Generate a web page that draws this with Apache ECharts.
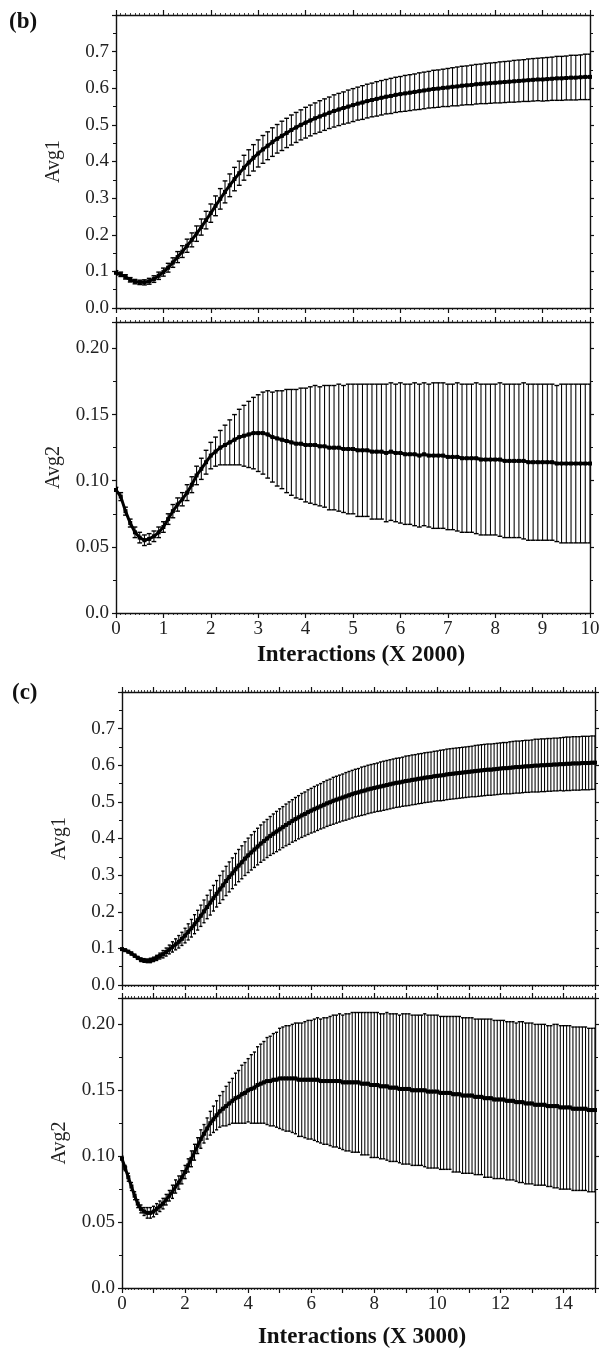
<!DOCTYPE html>
<html>
<head>
<meta charset="utf-8">
<script src="https://cdn.jsdelivr.net/npm/echarts@6/dist/echarts.min.js"></script>
<style>
html,body{margin:0;padding:0;background:#fff;}
#chart{width:606px;height:1351px;}
</style>
</head>
<body>
<div id="chart"></div>
<script>
// ---------- Panel (b): x in units of 2000 interactions ----------
const bX = [0,0.1,0.2,0.3,0.4,0.5,0.6,0.7,0.8,0.9,
1,1.1,1.2,1.3,1.4,1.5,1.6,1.7,1.8,1.9,
2,2.1,2.2,2.3,2.4,2.5,2.6,2.7,2.8,2.9,
3,3.1,3.2,3.3,3.4,3.5,3.6,3.7,3.8,3.9,
4,4.1,4.2,4.3,4.4,4.5,4.6,4.7,4.8,4.9,
5,5.1,5.2,5.3,5.4,5.5,5.6,5.7,5.8,5.9,
6,6.1,6.2,6.3,6.4,6.5,6.6,6.7,6.8,6.9,
7,7.1,7.2,7.3,7.4,7.5,7.6,7.7,7.8,7.9,
8,8.1,8.2,8.3,8.4,8.5,8.6,8.7,8.8,8.9,
9,9.1,9.2,9.3,9.4,9.5,9.6,9.7,9.8,9.9,10];

const bAvg1Mean = [0.096,0.092,0.085,0.077,0.072,0.070,0.070,0.073,0.079,0.088,
0.098,0.110,0.124,0.139,0.154,0.170,0.186,0.203,0.221,0.240,
0.259,0.279,0.298,0.317,0.335,0.352,0.368,0.383,0.397,0.410,
0.422,0.433,0.443,0.453,0.462,0.470,0.478,0.486,0.493,0.500,
0.506,0.512,0.518,0.523,0.528,0.533,0.538,0.542,0.546,0.550,
0.554,0.558,0.561,0.565,0.568,0.571,0.574,0.577,0.579,0.582,
0.584,0.586,0.588,0.590,0.592,0.594,0.596,0.598,0.599,0.601,
0.602,0.604,0.605,0.607,0.608,0.609,0.611,0.612,0.613,0.614,
0.615,0.616,0.617,0.618,0.619,0.620,0.621,0.622,0.623,0.624,
0.624,0.625,0.626,0.627,0.627,0.628,0.629,0.629,0.630,0.631,0.631];

const bAvg1Err = [0.006,0.006,0.006,0.006,0.006,0.006,0.007,0.008,0.009,0.010,
0.011,0.012,0.013,0.015,0.016,0.018,0.019,0.021,0.022,0.024,
0.025,0.027,0.028,0.030,0.031,0.032,0.033,0.034,0.035,0.036,
0.037,0.038,0.038,0.039,0.039,0.040,0.040,0.041,0.041,0.041,
0.042,0.042,0.042,0.043,0.043,0.043,0.044,0.044,0.044,0.045,
0.045,0.045,0.046,0.046,0.046,0.047,0.047,0.047,0.048,0.048,
0.048,0.049,0.049,0.049,0.050,0.050,0.050,0.051,0.051,0.051,
0.052,0.052,0.053,0.053,0.053,0.054,0.054,0.054,0.055,0.055,
0.055,0.056,0.056,0.056,0.057,0.057,0.057,0.058,0.058,0.058,
0.059,0.059,0.059,0.060,0.060,0.060,0.061,0.061,0.061,0.062,0.062];

const bAvg2Mean = [0.093,0.088,0.077,0.068,0.061,0.057,0.055,0.056,0.058,0.061,
0.065,0.071,0.077,0.082,0.086,0.091,0.097,0.104,0.109,0.114,
0.119,0.122,0.125,0.127,0.129,0.131,0.133,0.134,0.135,0.136,
0.136,0.136,0.135,0.133,0.132,0.131,0.130,0.129,0.128,0.128,
0.127,0.127,0.127,0.126,0.126,0.125,0.125,0.125,0.124,0.124,
0.124,0.123,0.123,0.123,0.122,0.122,0.122,0.121,0.122,0.121,
0.121,0.120,0.120,0.120,0.119,0.120,0.119,0.119,0.119,0.119,
0.118,0.118,0.118,0.117,0.117,0.117,0.117,0.116,0.116,0.116,
0.116,0.116,0.115,0.115,0.115,0.115,0.115,0.114,0.114,0.114,
0.114,0.114,0.114,0.113,0.113,0.113,0.113,0.113,0.113,0.113,0.113];

const bAvg2Err = [0.002,0.003,0.003,0.003,0.004,0.004,0.004,0.004,0.004,0.004,
0.004,0.004,0.005,0.005,0.005,0.006,0.006,0.007,0.008,0.009,
0.010,0.011,0.013,0.015,0.017,0.019,0.021,0.023,0.025,0.027,
0.029,0.031,0.033,0.034,0.036,0.037,0.039,0.040,0.041,0.042,
0.043,0.044,0.045,0.045,0.046,0.047,0.047,0.048,0.048,0.049,
0.049,0.050,0.050,0.050,0.051,0.051,0.051,0.052,0.052,0.052,
0.053,0.053,0.053,0.054,0.054,0.054,0.054,0.055,0.055,0.055,
0.055,0.055,0.056,0.056,0.056,0.056,0.057,0.057,0.057,0.057,
0.057,0.058,0.058,0.058,0.058,0.058,0.059,0.059,0.059,0.059,
0.059,0.059,0.059,0.059,0.060,0.060,0.060,0.060,0.060,0.060,0.060];

// ---------- Panel (c): x in units of 3000 interactions ----------
const cX = [0,0.1,0.2,0.3,0.4,0.5,0.6,0.7,0.8,0.9,
1,1.1,1.2,1.3,1.4,1.5,1.6,1.7,1.8,1.9,
2,2.1,2.2,2.3,2.4,2.5,2.6,2.7,2.8,2.9,
3,3.1,3.2,3.3,3.4,3.5,3.6,3.7,3.8,3.9,
4,4.1,4.2,4.3,4.4,4.5,4.6,4.7,4.8,4.9,
5,5.1,5.2,5.3,5.4,5.5,5.6,5.7,5.8,5.9,
6,6.1,6.2,6.3,6.4,6.5,6.6,6.7,6.8,6.9,
7,7.1,7.2,7.3,7.4,7.5,7.6,7.7,7.8,7.9,
8,8.1,8.2,8.3,8.4,8.5,8.6,8.7,8.8,8.9,
9,9.1,9.2,9.3,9.4,9.5,9.6,9.7,9.8,9.9,
10,10.1,10.2,10.3,10.4,10.5,10.6,10.7,10.8,10.9,
11,11.1,11.2,11.3,11.4,11.5,11.6,11.7,11.8,11.9,
12,12.1,12.2,12.3,12.4,12.5,12.6,12.7,12.8,12.9,
13,13.1,13.2,13.3,13.4,13.5,13.6,13.7,13.8,13.9,
14,14.1,14.2,14.3,14.4,14.5,14.6,14.7,14.8,14.9,15];

const cAvg1Mean = [0.098,0.095,0.091,0.086,0.080,0.074,0.069,0.067,0.066,0.067,
0.070,0.074,0.079,0.084,0.090,0.097,0.104,0.111,0.118,0.126,
0.135,0.145,0.155,0.166,0.177,0.189,0.201,0.213,0.225,0.237,
0.249,0.261,0.272,0.284,0.295,0.305,0.316,0.326,0.335,0.345,
0.354,0.362,0.370,0.378,0.386,0.393,0.400,0.407,0.413,0.419,
0.425,0.431,0.437,0.442,0.448,0.453,0.458,0.463,0.467,0.472,
0.476,0.480,0.484,0.488,0.492,0.496,0.499,0.503,0.506,0.509,
0.512,0.515,0.518,0.521,0.524,0.526,0.529,0.531,0.534,0.536,
0.538,0.540,0.542,0.544,0.546,0.548,0.550,0.552,0.553,0.555,
0.557,0.558,0.560,0.561,0.563,0.564,0.566,0.567,0.568,0.570,
0.571,0.572,0.573,0.575,0.576,0.577,0.578,0.579,0.580,0.581,
0.582,0.583,0.584,0.585,0.586,0.587,0.588,0.588,0.589,0.590,
0.591,0.592,0.592,0.593,0.594,0.595,0.595,0.596,0.597,0.597,
0.598,0.599,0.599,0.600,0.600,0.601,0.601,0.602,0.602,0.603,
0.603,0.604,0.604,0.605,0.605,0.605,0.606,0.606,0.606,0.607,0.607];

const cAvg1Err = [0.003,0.003,0.003,0.004,0.004,0.004,0.005,0.005,0.005,0.006,
0.006,0.007,0.008,0.010,0.011,0.012,0.014,0.015,0.017,0.018,
0.020,0.022,0.024,0.026,0.027,0.029,0.031,0.032,0.034,0.035,
0.036,0.038,0.039,0.040,0.041,0.042,0.043,0.044,0.045,0.046,
0.047,0.048,0.049,0.050,0.051,0.052,0.052,0.053,0.054,0.055,
0.056,0.056,0.057,0.058,0.058,0.059,0.059,0.060,0.060,0.061,
0.061,0.062,0.062,0.062,0.063,0.063,0.063,0.064,0.064,0.064,
0.064,0.065,0.065,0.065,0.065,0.065,0.066,0.066,0.066,0.066,
0.066,0.066,0.067,0.067,0.067,0.067,0.067,0.067,0.067,0.067,
0.068,0.068,0.068,0.068,0.068,0.068,0.068,0.068,0.068,0.068,
0.068,0.069,0.069,0.069,0.069,0.069,0.069,0.069,0.069,0.069,
0.069,0.069,0.070,0.070,0.070,0.070,0.070,0.070,0.070,0.070,
0.070,0.070,0.070,0.071,0.071,0.071,0.071,0.071,0.071,0.071,
0.071,0.072,0.072,0.072,0.072,0.072,0.072,0.072,0.072,0.072,
0.073,0.073,0.073,0.073,0.073,0.073,0.073,0.073,0.073,0.073,0.073];

const cAvg2Mean = [0.098,0.091,0.084,0.077,0.070,0.064,0.060,0.058,0.057,0.057,
0.058,0.060,0.062,0.064,0.067,0.070,0.073,0.077,0.080,0.084,
0.088,0.093,0.098,0.103,0.108,0.113,0.117,0.121,0.125,0.128,
0.131,0.134,0.136,0.138,0.140,0.142,0.144,0.145,0.147,0.148,
0.150,0.151,0.152,0.154,0.155,0.156,0.157,0.157,0.158,0.158,
0.159,0.159,0.159,0.159,0.159,0.159,0.158,0.158,0.158,0.158,
0.158,0.158,0.158,0.157,0.157,0.157,0.157,0.157,0.157,0.157,
0.156,0.156,0.156,0.156,0.156,0.156,0.155,0.155,0.155,0.154,
0.154,0.154,0.153,0.153,0.153,0.152,0.152,0.152,0.151,0.151,
0.151,0.151,0.150,0.150,0.150,0.150,0.150,0.149,0.149,0.149,
0.149,0.148,0.148,0.148,0.148,0.147,0.147,0.147,0.146,0.146,
0.146,0.146,0.145,0.145,0.145,0.144,0.144,0.144,0.143,0.143,
0.143,0.143,0.142,0.142,0.142,0.141,0.141,0.141,0.140,0.140,
0.140,0.139,0.139,0.139,0.139,0.138,0.138,0.138,0.138,0.137,
0.137,0.137,0.137,0.136,0.136,0.136,0.136,0.136,0.135,0.135,0.135];

const cAvg2Err = [0.002,0.002,0.003,0.003,0.003,0.003,0.003,0.003,0.004,0.004,
0.004,0.004,0.004,0.004,0.004,0.004,0.005,0.005,0.005,0.005,
0.005,0.005,0.006,0.006,0.006,0.007,0.007,0.008,0.009,0.010,
0.011,0.012,0.013,0.015,0.016,0.017,0.019,0.020,0.022,0.023,
0.024,0.026,0.027,0.029,0.030,0.031,0.033,0.034,0.035,0.036,
0.038,0.039,0.040,0.040,0.041,0.042,0.043,0.043,0.044,0.045,
0.045,0.046,0.047,0.047,0.048,0.048,0.049,0.050,0.050,0.051,
0.051,0.052,0.052,0.053,0.053,0.053,0.054,0.054,0.054,0.055,
0.055,0.055,0.055,0.055,0.056,0.056,0.056,0.056,0.056,0.057,
0.057,0.057,0.057,0.057,0.057,0.057,0.058,0.058,0.058,0.058,
0.058,0.058,0.058,0.058,0.058,0.059,0.059,0.059,0.059,0.059,
0.059,0.059,0.059,0.059,0.059,0.060,0.060,0.060,0.060,0.060,
0.060,0.060,0.060,0.060,0.060,0.060,0.061,0.061,0.061,0.061,
0.061,0.061,0.061,0.061,0.061,0.061,0.061,0.062,0.062,0.062,
0.062,0.062,0.062,0.062,0.062,0.062,0.062,0.062,0.062,0.062,0.062];

// tick labels
const avg1Ticks = ['0.0','0.1','0.2','0.3','0.4','0.5','0.6','0.7'];
const avg2Ticks = ['0.0','0.05','0.10','0.15','0.20'];
const bXTicks = ['0','1','2','3','4','5','6','7','8','9','10'];
const cXTicks = ['0','2','4','6','8','10','12','14'];

// ---------- build option ----------
const SERIF = 'Liberation Serif';
const INK = '#111';
const grids = [
  {left:116, top:15,  width:474, height:293},
  {left:116, top:322, width:474, height:291},
  {left:122, top:692, width:473, height:293},
  {left:122, top:998, width:473, height:290}
];
const panels = [
  {x:bX, m:bAvg1Mean, e:bAvg1Err, xmax:10, kind:1, labels:false, step:0.1},
  {x:bX, m:bAvg2Mean, e:bAvg2Err, xmax:10, kind:2, labels:true,  step:0.1, xt:bXTicks},
  {x:cX, m:cAvg1Mean, e:cAvg1Err, xmax:15, kind:1, labels:false, step:0.1},
  {x:cX, m:cAvg2Mean, e:cAvg2Err, xmax:15, kind:2, labels:true,  step:0.1, xt:cXTicks}
];

function fmtNum(v){ return Math.round(v*1000)/1000; }

const xAxis = [], yAxis = [], series = [];
panels.forEach((p, gi) => {
  const axLine = {show:true, onZero:false, lineStyle:{color:INK, width:1.4}};
  const xBase = {
    type:'value', gridIndex:gi, min:0, max:p.xmax, interval:1,
    axisLine:axLine, splitLine:{show:false},
    axisTick:{show:true, inside:false, length:5, lineStyle:{color:INK, width:1.2}},
    minorTick:{show:true, splitNumber:10, length:2, lineStyle:{color:INK, width:0.8}}
  };
  xAxis.push(Object.assign({}, xBase, {
    position:'bottom',
    axisLabel:{
      show:p.labels, margin:7, fontFamily:SERIF, fontSize:19, color:'#222',
      formatter: v => { const s = String(fmtNum(v)); return p.xt && p.xt.indexOf(s) >= 0 ? s : ''; }
    }
  }));
  xAxis.push(Object.assign({}, xBase, {position:'top', axisLabel:{show:false}}));

  const isA1 = p.kind === 1;
  const ticks = isA1 ? avg1Ticks : avg2Ticks;
  const yBase = {
    type:'value', gridIndex:gi, min:0, max: isA1 ? 0.8 : 0.22, interval: isA1 ? 0.1 : 0.05,
    axisLine:axLine, splitLine:{show:false},
    axisTick:{show:true, inside:false, length:4, lineStyle:{color:INK, width:1.2}},
    minorTick:{show:true, splitNumber:2, length:3, lineStyle:{color:INK, width:1}}
  };
  yAxis.push(Object.assign({}, yBase, {
    position:'left',
    name: isA1 ? 'Avg1' : 'Avg2', nameLocation:'middle', nameGap:52, nameRotate:90,
    nameTextStyle:{fontFamily:SERIF, fontSize:20, color:'#222'},
    axisLabel:{
      show:true, margin:7, fontFamily:SERIF, fontSize:19, color:'#222',
      formatter: v => {
        const r = fmtNum(v);
        if (r === 0) return '0.0';
        const s = isA1 ? r.toFixed(1) : r.toFixed(2);
        return ticks.indexOf(s) >= 0 ? s : '';
      }
    }
  }));
  yAxis.push(Object.assign({}, yBase, {position:'right', axisLabel:{show:false}}));

  const xi = gi*2, yi = gi*2;
  const data = p.x.map((xv, i) => [xv, p.m[i], p.e[i]]);
  series.push({
    type:'custom', xAxisIndex:xi, yAxisIndex:yi, clip:true, z:2,
    data:data,
    renderItem:(params, api) => {
      const xv = api.value(0), mv = api.value(1), ev = api.value(2);
      const t = api.coord([xv, mv + ev]);
      const b = api.coord([xv, mv - ev]);
      const hw = api.size([p.step, 0])[0] / 2;
      const st = {stroke:'#000', lineWidth:1.05};
      const cap = {stroke:'#000', lineWidth:1.4};
      return {type:'group', children:[
        {type:'line', shape:{x1:t[0], y1:t[1], x2:b[0], y2:b[1]}, style:st},
        {type:'line', shape:{x1:t[0]-hw, y1:t[1], x2:t[0]+hw, y2:t[1]}, style:cap},
        {type:'line', shape:{x1:b[0]-hw, y1:b[1], x2:b[0]+hw, y2:b[1]}, style:cap}
      ]};
    }
  });
  series.push({
    type:'line', xAxisIndex:xi, yAxisIndex:yi, z:3,
    data:p.x.map((xv, i) => [xv, p.m[i]]),
    symbol:'rect', symbolSize:4, showSymbol:true,
    lineStyle:{color:'#000', width:3},
    itemStyle:{color:'#000'}
  });
});

const option = {
  animation:false,
  backgroundColor:'#fff',
  grid:grids,
  xAxis:xAxis,
  yAxis:yAxis,
  series:series,
  graphic:[
    {type:'text', left:9, top:11, style:{text:'(b)', font:'bold 23px "Liberation Serif"', fill:'#111'}},
    {type:'text', left:12, top:682, style:{text:'(c)', font:'bold 23px "Liberation Serif"', fill:'#111'}},
    {type:'text', x:361, y:655, style:{text:'Interactions (X 2000)', font:'bold 23px "Liberation Serif"', fill:'#111', align:'center', verticalAlign:'middle'}},
    {type:'text', x:362, y:1337, style:{text:'Interactions (X 3000)', font:'bold 23px "Liberation Serif"', fill:'#111', align:'center', verticalAlign:'middle'}}
  ]
};

const chart = echarts.init(document.getElementById('chart'), null, {renderer:'canvas'});
chart.setOption(option);
</script>
</body>
</html>
